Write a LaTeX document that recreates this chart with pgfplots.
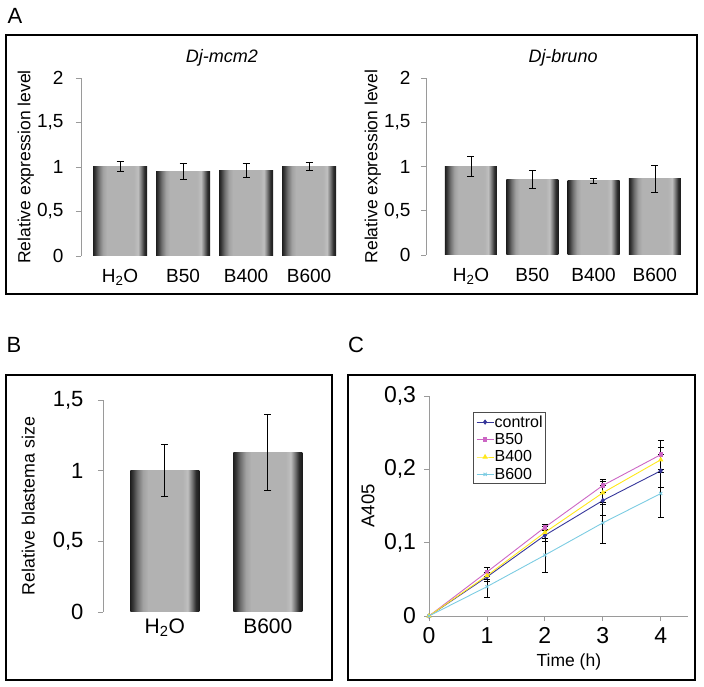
\documentclass[border=0pt]{standalone}
\usepackage{fontspec}
\setmainfont{Liberation Sans}
\usepackage{pgfplots}
\pgfplotsset{compat=1.18}
\definecolor{axgray}{HTML}{9A9A9A}
\definecolor{ctrl}{HTML}{36369A}
\definecolor{bfifty}{HTML}{CC66C4}
\definecolor{bfour}{HTML}{FFE81A}
\definecolor{bsix}{HTML}{7CCCE2}

% grey bar with dark edges; the bar box maps to 25bp..75bp
\pgfdeclarehorizontalshading{barshade}{100bp}{color(0bp)=(black!88); color(25bp)=(black!88);
  color(27bp)=(black!77); color(30bp)=(black!57); color(34bp)=(black!37); color(38bp)=(black!30);
  color(63bp)=(black!30); color(66.5bp)=(black!25); color(69.5bp)=(black!52); color(72.5bp)=(black!82);
  color(75bp)=(black!90); color(100bp)=(black!90)}

\newcommand{\fs}[1]{\fontsize{#1bp}{#1bp}\selectfont}

\pgfplotsset{
  errs/.style={
    /pgfplots/error bars/y dir=both, /pgfplots/error bars/y explicit,
    /pgfplots/error bars/error bar style={black, line width=0.7bp},
    /pgfplots/error bars/error mark options={black, rotate=90, mark size=#1, line width=0.7bp}},
  barax/.style={
    scale only axis, anchor=south west,
    axis y line=left, axis x line=bottom, axis line style={-},
    x axis line style={draw=none}, y axis line style={draw=axgray, line width=0.8bp},
    xtick={0,...,3}, xtick style={draw=none},
    ytick style={draw=axgray, line width=0.8bp}, tick align=outside, major tick length=5bp,
    ymin=0, clip=false,
    /pgf/number format/use comma, /pgf/number format/assume math mode=true,
    ybar, bar shift=0pt,
  },
  shadebar/.style={draw=none, shading=barshade, errs=3.5bp},
}

\begin{document}
\begin{tikzpicture}
\useasboundingbox (0,0) rectangle (704bp,687bp);

% panel frames and letters
\draw[line width=1.4bp] (6bp,393bp) rectangle (697bp,652bp);
\draw[line width=1.4bp] (6bp,7bp) rectangle (332bp,312bp);
\draw[line width=1.4bp] (348bp,7bp) rectangle (695bp,312bp);
\node[font=\fs{22}] at (15bp,671bp) {A};
\node[font=\fs{22}] at (14bp,342bp) {B};
\node[font=\fs{22}] at (356bp,342bp) {C};

% A, left: Dj-mcm2
\begin{axis}[barax, at={(81bp,431bp)}, width=259.6bp, height=178bp,
  xmin=-0.62, xmax=3.5, ymax=2, ytick={0,0.5,1,1.5,2}, bar width=54bp,
  xticklabels={H\textsubscript{2}O, B50, B400, B600},
  tick label style={font=\fs{19}}, xticklabel style={yshift=-5bp}, yticklabel style={xshift=-9bp},
  title={\itshape Dj-mcm2}, title style={at={(rel axis cs:0.543,1)}, anchor=center, yshift=14bp, font=\fs{18}},
  ylabel={Relative expression level}, ylabel style={at={(axis description cs:-0.212,0.5)}, anchor=center, font=\fs{17.5}}]
\addplot[shadebar] coordinates {(0,1.005) +- (0,0.056)};
\addplot[shadebar] coordinates {(1,0.947) +- (0,0.09)};
\addplot[shadebar] coordinates {(2,0.963) +- (0,0.075)};
\addplot[shadebar] coordinates {(3,1.003) +- (0,0.045)};
\end{axis}

% A, right: Dj-bruno
\begin{axis}[barax, at={(426bp,432bp)}, width=259.5bp, height=177bp,
  xmin=-0.734, xmax=3.5, ymax=2, ytick={0,0.5,1,1.5,2}, bar width=52bp,
  xticklabels={H\textsubscript{2}O, B50, B400, B600},
  tick label style={font=\fs{19}}, xticklabel style={yshift=-5bp}, yticklabel style={xshift=-7bp},
  title={\itshape Dj-bruno}, title style={at={(rel axis cs:0.528,1)}, anchor=center, yshift=14bp, font=\fs{18}},
  ylabel={Relative expression level}, ylabel style={at={(axis description cs:-0.205,0.5)}, anchor=center, font=\fs{17.5}}]
\addplot[shadebar] coordinates {(0,0.998) +- (0,0.113)};
\addplot[shadebar] coordinates {(1,0.852) +- (0,0.1)};
\addplot[shadebar] coordinates {(2,0.84) +- (0,0.025)};
\addplot[shadebar] coordinates {(3,0.862) +- (0,0.15)};
\end{axis}

% B
\begin{axis}[barax, at={(103bp,75bp)}, width=216.3bp, height=212bp,
  xmin=-0.6, xmax=1.5, ymax=1.5, ytick={0,0.5,1,1.5}, xtick={0,1}, bar width=69bp,
  xticklabels={H\textsubscript{2}O, B600},
  yticklabel style={font=\fs{22}, xshift=-11bp}, xticklabel style={font=\fs{21}, yshift=2bp},
  ylabel={Relative blastema size}, ylabel style={at={(axis description cs:-0.345,0.5)}, anchor=center, font=\fs{17.8}}]
\addplot[shadebar] coordinates {(0,1.0) +- (0,0.185)};
\addplot[shadebar] coordinates {(1,1.128) +- (0,0.27)};
\end{axis}

% C
\begin{axis}[scale only axis, anchor=south west, at={(429bp,71bp)}, width=259bp, height=220bp,
  xmin=0, xmax=4.47, ymin=0, ymax=0.3, xtick={0,1,2,3,4}, ytick={0,0.1,0.2,0.3},
  axis lines=left, axis line style={-, draw=axgray, line width=0.8bp},
  tick style={draw=axgray, line width=0.8bp}, tick align=outside, major tick length=5bp,
  /pgf/number format/use comma, /pgf/number format/assume math mode=true,
  tick label style={font=\fs{23}}, yticklabel style={xshift=-4.5bp}, xticklabel style={yshift=-3bp}, clip=false,
  xlabel={Time (h)}, xlabel style={at={(axis description cs:0.54,-0.211)}, anchor=center, font=\fs{17.5}},
  ylabel={A405}, ylabel style={at={(axis description cs:-0.236,0.5)}, anchor=center, font=\fs{18.5}},
  legend style={at={(rel axis cs:0.171,0.927)}, anchor=north west, draw=black!70, line width=0.7bp,
    font=\fs{16}, inner sep=2.5bp, row sep=3.5bp, legend cell align=left,
    nodes={inner sep=0.6bp}},
  legend image code/.code={\draw[mark repeat=2, mark phase=2] plot coordinates {(0bp,0bp) (8.5bp,0bp) (17bp,0bp)};}]
\addplot[ctrl, line width=0.9bp, mark=diamond*, mark size=2bp, errs=3bp] coordinates {(0,0) (1,0.0533) +- (0,0.006) (2,0.110) +- (0,0.008) (3,0.1575) +- (0,0.02) (4,0.198) +- (0,0.022)};
\addplot[bfifty, line width=0.9bp, mark=square*, mark size=1.8bp, errs=3bp] coordinates {(0,0) (1,0.060) +- (0,0.006) (2,0.121) +- (0,0.004) (3,0.178) +- (0,0.009) (4,0.220) +- (0,0.02)};
\addplot[bfour, line width=0.9bp, mark=triangle*, mark size=2.2bp, errs=3bp] coordinates {(0,0) (1,0.055) +- (0,0.005) (2,0.114) +- (0,0.008) (3,0.168) +- (0,0.016) (4,0.213) +- (0,0.017)};
\addplot[bsix, line width=0.9bp, mark=x, mark size=2.2bp, errs=3bp] coordinates {(0,0) (1,0.040) +- (0,0.014) (2,0.083) +- (0,0.023) (3,0.127) +- (0,0.028) (4,0.167) +- (0,0.033)};
\legend{control, B50, B400, B600}
\end{axis}
\end{tikzpicture}
\end{document}
